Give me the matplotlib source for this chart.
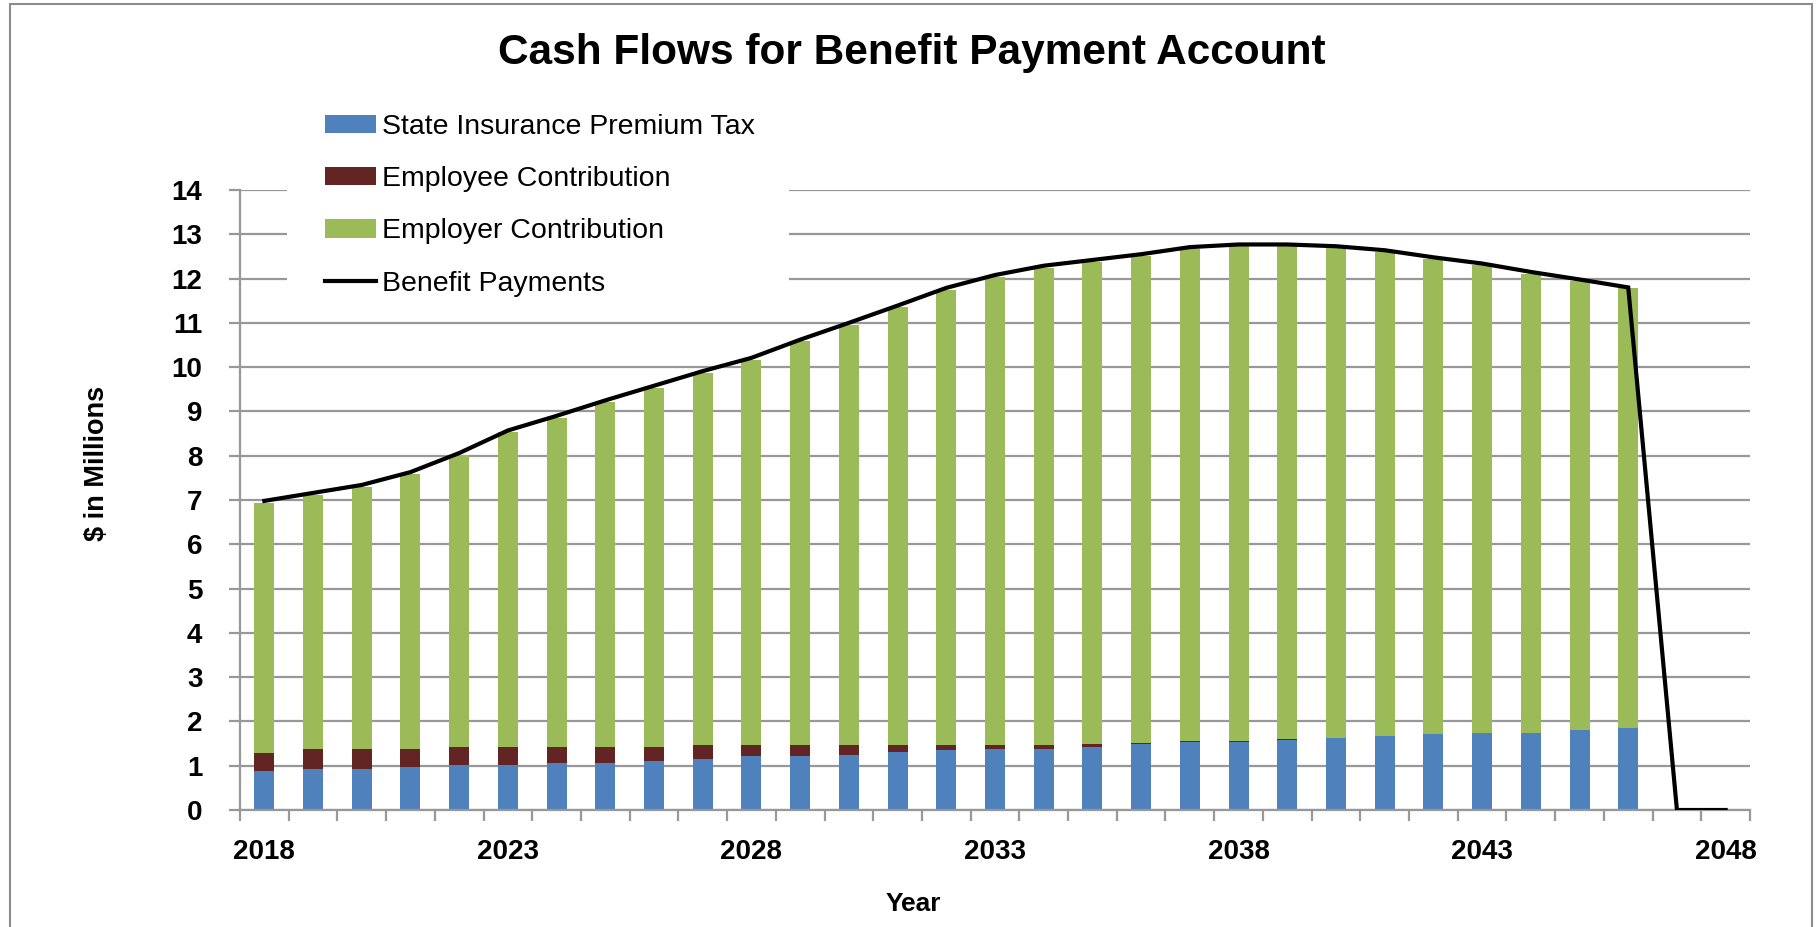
import numpy as np
import matplotlib
matplotlib.use("Agg")
import matplotlib.pyplot as plt
from matplotlib.patches import Patch, Rectangle
from matplotlib.lines import Line2D

plt.rcParams['font.family'] = ['Liberation Sans', 'DejaVu Sans']

# ---------------- data ----------------
bar_years = list(range(2018, 2047))
line_years = list(range(2018, 2049))
tick_years = [2018, 2023, 2028, 2033, 2038, 2043, 2048]

state_tax = [0.885, 0.93, 0.93, 0.97, 1.015, 1.015, 1.07, 1.07, 1.115, 1.16,
             1.21, 1.21, 1.25, 1.30, 1.35, 1.385, 1.385, 1.43, 1.48, 1.53,
             1.53, 1.58, 1.615, 1.66, 1.71, 1.75, 1.75, 1.80, 1.85]
employee = [0.40, 0.44, 0.44, 0.40, 0.405, 0.405, 0.35, 0.35, 0.305, 0.31,
            0.26, 0.26, 0.22, 0.17, 0.12, 0.075, 0.075, 0.06, 0.04, 0.03,
            0.03, 0.02, 0.0, 0.0, 0.0, 0.0, 0.0, 0.0, 0.0]
employer = [5.65, 5.75, 5.93, 6.22, 6.60, 7.11, 7.44, 7.79, 8.12, 8.40,
            8.70, 9.11, 9.49, 9.88, 10.28, 10.58, 10.79, 10.89, 10.99, 11.11,
            11.17, 11.13, 11.08, 10.94, 10.73, 10.55, 10.36, 10.14, 9.94]
benefit_payments = [6.98, 7.16, 7.34, 7.63, 8.06, 8.57, 8.90, 9.25, 9.58, 9.91,
                    10.21, 10.62, 11.00, 11.39, 11.79, 12.08, 12.29, 12.42, 12.55, 12.71,
                    12.77, 12.77, 12.73, 12.64, 12.48, 12.34, 12.15, 11.98, 11.80, 0.0, 0.0]

labels = ["State Insurance Premium Tax", "Employee Contribution",
          "Employer Contribution", "Benefit Payments"]
colors = ["#4F81BD", "#632523", "#9BBB59", "#000000"]

# ---------------- figure ----------------
W, H = 1818, 927
fig = plt.figure(figsize=(W / 100, H / 100), dpi=100)
ax = fig.add_axes([240 / W, 1 - 810 / H, 1510 / W, 620 / H])

grid_c = "#989898"
xb = np.arange(len(bar_years))
xl = np.arange(len(line_years))
st = np.array(state_tax)
em = np.array(employee)
er = np.array(employer)

bw = 0.41
ax.bar(xb, st, bw, color=colors[0], zorder=2)
ax.bar(xb, em, bw, bottom=st, color=colors[1], zorder=2)
ax.bar(xb, er, bw, bottom=st + em, color=colors[2], zorder=2)
ax.plot(xl, benefit_payments, color=colors[3], lw=3.0, zorder=3,
        solid_joinstyle='miter')

ax.set_xlim(-0.5, len(line_years) - 0.5)
ax.set_ylim(0, 14)
ax.set_yticks(range(0, 15))
ax.yaxis.grid(True, color=grid_c, lw=1.6)
ax.set_axisbelow(True)

for s in ["top", "right"]:
    ax.spines[s].set_visible(False)
for s in ["left", "bottom"]:
    ax.spines[s].set_color(grid_c)
    ax.spines[s].set_linewidth(1.6)

# x ticks at category boundaries, labels at category centres
ax.set_xticks(np.arange(-0.5, len(line_years), 1.0))
ax.set_xticklabels([])
ax.tick_params(axis='x', which='major', length=8, width=1.6, color=grid_c,
               direction='out')
ax.set_xticks([line_years.index(y) for y in tick_years], minor=True)
ax.set_xticklabels([str(y) for y in tick_years], minor=True,
                   fontsize=20, fontweight='bold')
ax.tick_params(axis='x', which='minor', length=0, pad=21)

ax.tick_params(axis='y', length=8, width=1.6, color=grid_c, direction='out',
               pad=19, labelsize=20)
for t in ax.get_yticklabels():
    t.set_fontweight('bold')

# legend (white backdrop interrupting gridlines)
bg = Rectangle((287 / W, 1 - 305 / H), (789 - 287) / W, (305 - 95) / H,
               transform=fig.transFigure, facecolor='white', edgecolor='none',
               zorder=1.5)
ax.add_artist(bg)
bg.set_clip_on(False)

handles = [Patch(facecolor=colors[0]), Patch(facecolor=colors[1]),
           Patch(facecolor=colors[2]),
           Line2D([0], [0], color=colors[3], lw=3.0)]
leg = ax.legend(handles, labels, loc='upper left',
                bbox_to_anchor=(325 / W, 1 - 114 / H),
                bbox_transform=fig.transFigure, frameon=False,
                fontsize=20.5, borderpad=0, handlelength=1.79,
                handleheight=0.63, handletextpad=0.21, labelspacing=0.92,
                borderaxespad=0)
leg.set_zorder(4)

# titles
fig.text(912 / W, 1 - 64 / H, "Cash Flows for Benefit Payment Account",
         ha='center', va='baseline', fontsize=30.5, fontweight='bold')
fig.text(913 / W, 1 - 911 / H, "Year", ha='center', va='baseline',
         fontsize=19, fontweight='bold')
fig.text(97 / W, 1 - 463 / H, "$ in Millions", ha='center', va='center',
         rotation=90, fontsize=19.5, fontweight='bold')

# chart border
fig.patches.append(Rectangle((10 / W, -0.05), (1812 - 10) / W, 1.05 - 4 / H,
                             transform=fig.transFigure, fill=False,
                             edgecolor='#8c8c8c', lw=1.5))

fig.savefig("out.png", dpi=100)
